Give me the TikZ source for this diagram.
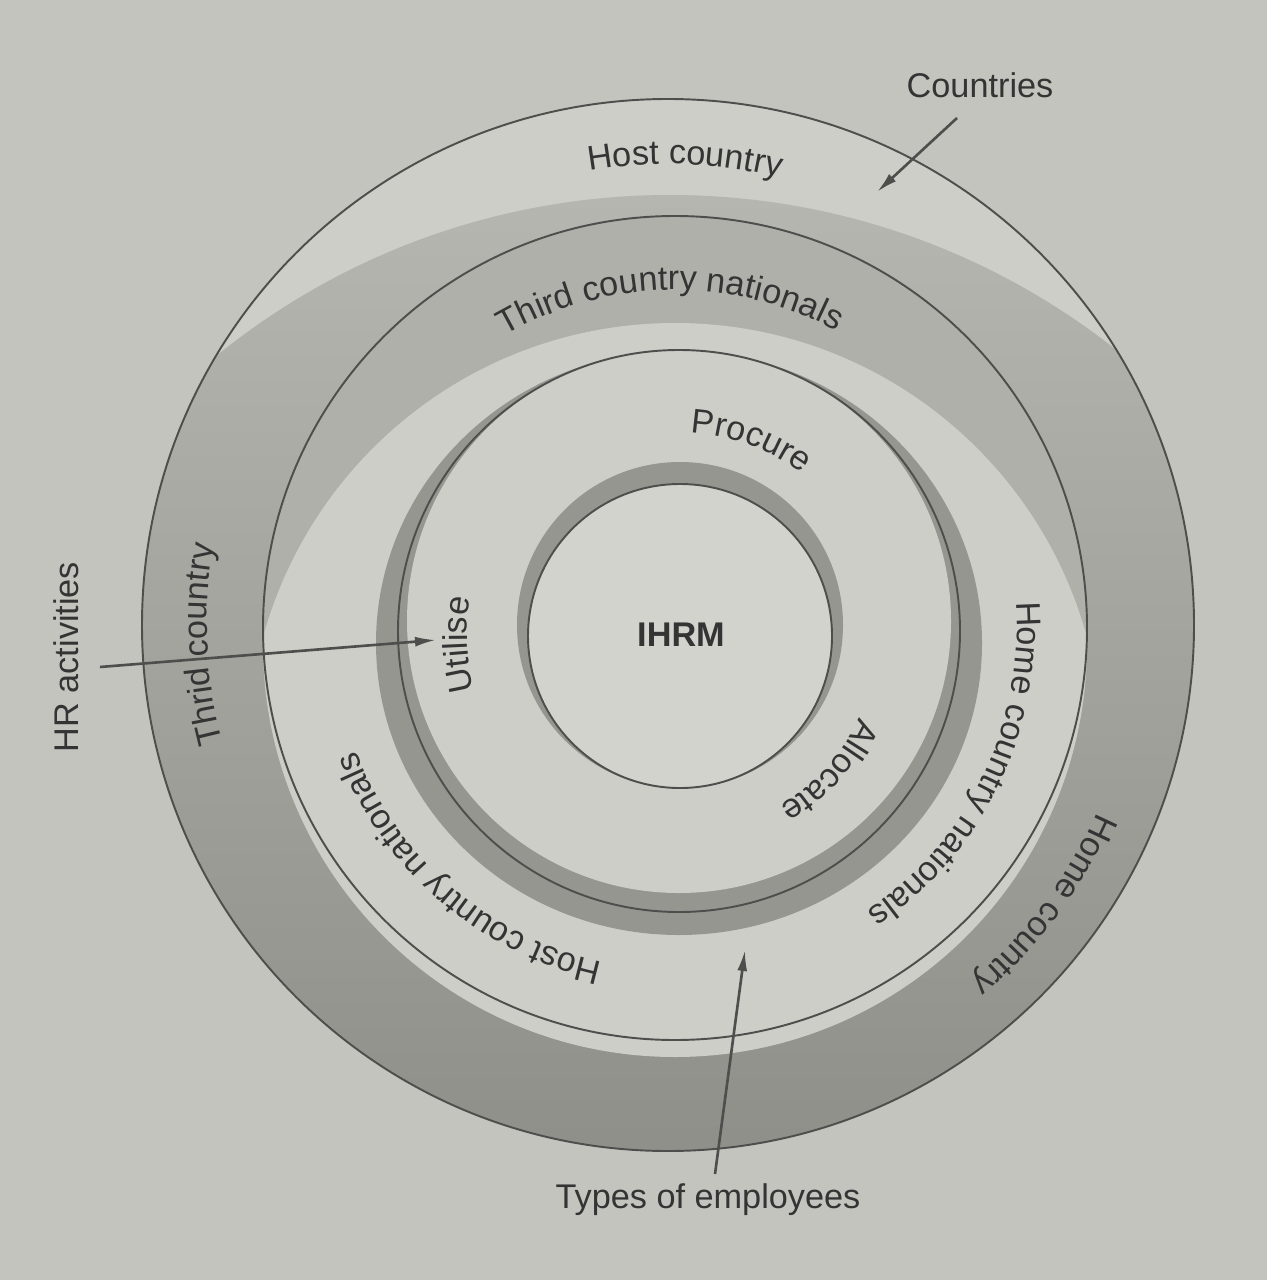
\documentclass[tikz,border=0pt]{standalone}
\usepackage{fontspec}
\setmainfont{Liberation Sans}
\usetikzlibrary{calc,arrows.meta,decorations.text}

\definecolor{paper}{RGB}{196,196,191}
\definecolor{lite}{RGB}{206,206,201}
\definecolor{liteC}{RGB}{211,211,206}
\definecolor{midA}{RGB}{182,182,177}
\definecolor{darkA}{RGB}{124,124,119}
\definecolor{midB}{RGB}{176,176,171}
\definecolor{darkB}{RGB}{150,150,145}
\definecolor{darkC}{RGB}{150,150,145}
\definecolor{ink}{RGB}{78,78,76}
\definecolor{txt}{RGB}{52,52,52}

\newcommand\lbl{\fontsize{19.5}{23}\selectfont}
% #1 centre, #2 baseline radius, #3 mid angle, #4 half span, #5 text (set clockwise)
\newcommand\arclabel[5]{%
  \path[decorate,decoration={text along path,text align=center,text color=txt,
        text={|\lbl|#5}}]
    ($(#1)+({#3+#4}:#2)$) arc[start angle={#3+#4},end angle={#3-#4},radius=#2];}

\tikzset{
  ring/.style={draw=ink,line width=1.1pt},
  arr/.style={draw=ink,line width=1.5pt,-{Latex[length=0.42cm,width=0.2cm]}},
  tag/.style={text=txt,font=\lbl,inner sep=0pt}
}

\begin{document}
\begin{tikzpicture}[x=0.02cm,y=0.02cm]
  \fill[paper] (0,0) rectangle (1267,-1280);
  \path[use as bounding box] (0,0) rectangle (1267,-1280);

  \coordinate (c1) at (668,-625);
  \coordinate (c2) at (675,-628);
  \coordinate (c3) at (679,-631);
  \coordinate (c4) at (680,-636);

  % countries ring: light cap on top, shadow round the sides and bottom
  \fill[lite] (c1) circle (526);
  \begin{scope}
    \clip (c1) circle (526);
    \shade[top color=midA,bottom color=darkA] (670,-915) circle (720);
    \fill[lite] (675,-645) circle (412);
  \end{scope}

  % employees ring: shadow on top, thin shadow hugging the activities ring
  \begin{scope}
    \clip (c2) circle (412);
    \fill[midB] (c2) circle (412);
    \fill[lite] (675,-750) circle (427);
    \fill[darkB] (679,-643) ellipse [x radius=303,y radius=292];
  \end{scope}

  % activities ring: crescent along the bottom, halo round the core
  \begin{scope}
    \clip (c3) circle (281);
    \fill[darkC] (c3) circle (281);
    \fill[lite] (679,-621) circle (272);
    \fill[darkC] (680,-625) circle (163);
  \end{scope}
  \fill[liteC] (c4) circle (152);

  \draw[ring] (c1) circle (526);
  \draw[ring] (c2) circle (412);
  \draw[ring] (c3) circle (281);
  \draw[ring] (c4) circle (152);

  % ring labels
  \arclabel{c1}{461}{87.9}{40}{Host country}
  \arclabel{c1}{461}{182.4}{40}{Thrid country}
  \arclabel{c1}{468}{-36.6}{40}{Home country}
  \arclabel{c2}{338}{90.9}{60}{Third country nationals}
  \arclabel{c2}{342}{-25.8}{60}{Home country nationals}
  \arclabel{c2}{342}{229.4}{60}{Host country nationals}
  \arclabel{c4}{203}{70}{45}{Procure}
  \arclabel{c4}{213}{182.3}{45}{Utilise}
  \arclabel{c4}{197}{-42}{45}{Allocate}

  \node[tag,font=\lbl\bfseries] (ihrm) at (681,-635) {IHRM};

  % outer labels and pointers
  \node[tag] (countries) at (980,-85) {Countries};
  \node[tag,rotate=90] (hr) at (66,-657) {HR activities};
  \node[tag] (types) at (708,-1200) {Types of employees};

  \coordinate (ctail) at (957,-118);
  \coordinate (ctip) at (877,-192);
  \coordinate (htail) at (100,-667);
  \coordinate (htip) at (436,-640);
  \coordinate (ttail) at (715,-1174);
  \coordinate (ttip) at (745,-950);
  \draw[arr] (ctail) -- (ctip);
  \draw[arr] (htail) -- (htip);
  \draw[arr] (ttail) -- (ttip);
\end{tikzpicture}
\end{document}
